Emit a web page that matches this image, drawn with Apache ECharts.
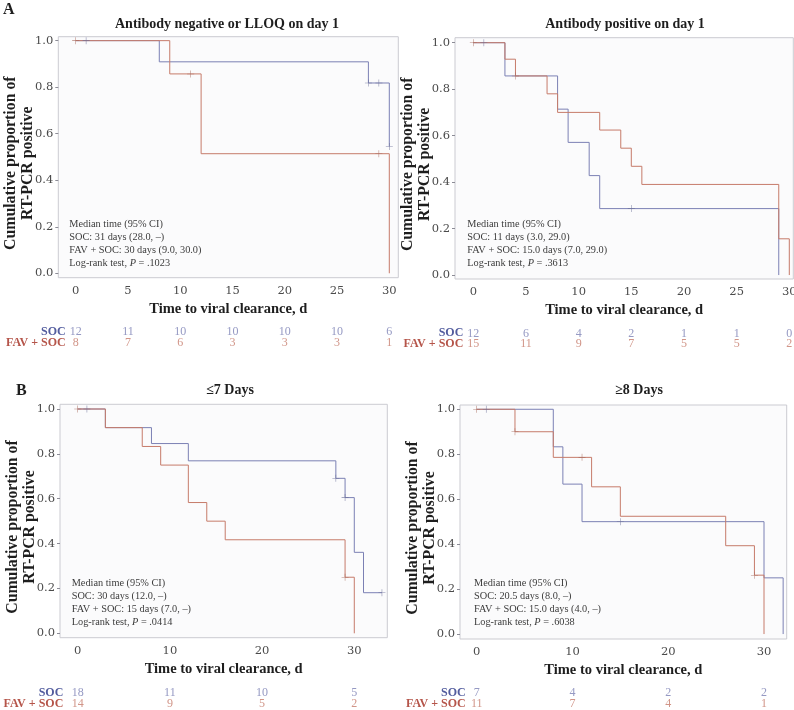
<!DOCTYPE html>
<html>
<head>
<meta charset="utf-8">
<script src="https://cdn.jsdelivr.net/npm/echarts@6/dist/echarts.min.js"></script>
<style>
  html, body { margin: 0; padding: 0; background: #fff; }
  #main { width: 794px; height: 710px; }
</style>
</head>
<body>
<div id="main"></div>
<script>
// ---- data ----
// A: antibody negative or LLOQ on day 1
var socTimeA1 = [0, 8, 28, 30];
var socSurvA1 = [1, 0.909, 0.818, 0.545];
var favTimeA1 = [0, 9, 12, 30];
var favSurvA1 = [1, 0.857, 0.514, 0];
var socCensTA1 = [1, 28, 29, 30];
var socCensSA1 = [1, 0.818, 0.818, 0.545];
var favCensTA1 = [0, 11, 29];
var favCensSA1 = [1, 0.857, 0.514];

// A: antibody positive on day 1
var socTimeA2 = [0, 3, 8, 9, 11, 12, 29];
var socSurvA2 = [1, 0.857, 0.714, 0.571, 0.428, 0.286, 0];
var favTimeA2 = [0, 3, 4, 7, 8, 12, 14, 15, 16, 29, 30];
var favSurvA2 = [1, 0.929, 0.857, 0.78, 0.70, 0.624, 0.546, 0.468, 0.39, 0.156, 0];
var socCensTA2 = [1, 15];
var socCensSA2 = [1, 0.286];
var favCensTA2 = [0, 4];
var favCensSA2 = [1, 0.857];

// B: <=7 days
var socTimeB1 = [0, 3, 8, 12, 28, 29, 30, 31, 33];
var socSurvB1 = [1, 0.917, 0.846, 0.769, 0.691, 0.605, 0.361, 0.181, 0.181];
var favTimeB1 = [0, 3, 7, 9, 12, 14, 16, 29, 30];
var favSurvB1 = [1, 0.917, 0.833, 0.75, 0.583, 0.5, 0.417, 0.25, 0];
var socCensTB1 = [1, 28, 29, 33];
var socCensSB1 = [1, 0.691, 0.605, 0.181];
var favCensTB1 = [0, 29];
var favCensSB1 = [1, 0.25];

// B: >=8 days
var socTimeB2 = [0, 8, 9, 11, 30, 32];
var socSurvB2 = [1, 0.833, 0.667, 0.5, 0.25, 0];
var favTimeB2 = [0, 4, 8, 12, 15, 26, 29, 30];
var favSurvB2 = [1, 0.9, 0.786, 0.655, 0.524, 0.393, 0.262, 0];
var socCensTB2 = [1, 15];
var socCensSB2 = [1, 0.5];
var favCensTB2 = [0, 4, 11, 29];
var favCensSB2 = [1, 0.9, 0.786, 0.262];

// number at risk
var riskTicksA = [0, 5, 10, 15, 20, 25, 30];
var socRiskA1 = [12, 11, 10, 10, 10, 10, 6];
var favRiskA1 = [8, 7, 6, 3, 3, 3, 1];
var socRiskA2 = [12, 6, 4, 2, 1, 1, 0];
var favRiskA2 = [15, 11, 9, 7, 5, 5, 2];
var riskTicksB = [0, 10, 20, 30];
var socRiskB1 = [18, 11, 10, 5];
var favRiskB1 = [14, 9, 5, 2];
var socRiskB2 = [7, 4, 2, 2];
var favRiskB2 = [11, 7, 4, 1];

var yTicks = [0, 0.2, 0.4, 0.6, 0.8, 1.0];
var rowNames = ['FAV + SOC', 'SOC'];

var titles = ['Antibody negative or LLOQ on day 1', 'Antibody positive on day 1', '\u22647 Days', '\u22658 Days'];
var notes = [
  ['SOC: 31 days (28.0, \u2013)', 'FAV + SOC: 30 days (9.0, 30.0)', '.1023'],
  ['SOC: 11 days (3.0, 29.0)', 'FAV + SOC: 15.0 days (7.0, 29.0)', '.3613'],
  ['SOC: 30 days (12.0, \u2013)', 'FAV + SOC: 15 days (7.0, \u2013)', '.0414'],
  ['SOC: 20.5 days (8.0, \u2013)', 'FAV + SOC: 15.0 days (4.0, \u2013)', '.6038']
];

function zip(a, b) {
  return a.map(function (v, i) { return [v, b[i]]; });
}
function riskRow(ticks, vals, row) {
  return ticks.map(function (t, i) { return [t, row, vals[i]]; });
}

// ---- layout ----
var BLUE = '#7b80b4', RED = '#c67b6a';
var BLUE_TXT = '#525c9e', RED_TXT = '#b5554a';
var SERIF = 'Liberation Serif';

var panels = [
  { soc: zip(socTimeA1, socSurvA1), fav: zip(favTimeA1, favSurvA1),
    socC: zip(socCensTA1, socCensSA1), favC: zip(favCensTA1, favCensSA1),
    ticks: riskTicksA, socR: socRiskA1, favR: favRiskA1,
    box: [58.3, 36.7, 340, 241], xr: [-1.66, 30.86], yr: [-0.019, 1.017],
    tab: [326.2, 22, -7.4], title: [227, 24], note: [69.3, 218] },
  { soc: zip(socTimeA2, socSurvA2), fav: zip(favTimeA2, favSurvA2),
    socC: zip(socCensTA2, socCensSA2), favC: zip(favCensTA2, favCensSA2),
    ticks: riskTicksA, socR: socRiskA2, favR: favRiskA2,
    box: [455, 37.7, 338.3, 241.3], xr: [-1.74, 30.38], yr: [-0.017, 1.0215],
    tab: [328, 21.4, -8.3], title: [625, 24], note: [467.3, 218] },
  { soc: zip(socTimeB1, socSurvB1), fav: zip(favTimeB1, favSurvB1),
    socC: zip(socCensTB1, socCensSB1), favC: zip(favCensTB1, favCensSB1),
    ticks: riskTicksB, socR: socRiskB1, favR: favRiskB1,
    box: [60, 404.3, 327.3, 233.4], xr: [-1.92, 33.58], yr: [-0.0196, 1.021],
    tab: [687, 22.6, -3.3], title: [230, 390.7], note: [71.7, 577] },
  { soc: zip(socTimeB2, socSurvB2), fav: zip(favTimeB2, favSurvB2),
    socC: zip(socCensTB2, socCensSB2), favC: zip(favCensTB2, favCensSB2),
    ticks: riskTicksB, socR: socRiskB2, favR: favRiskB2,
    box: [460, 405, 326.7, 234], xr: [-1.74, 32.37], yr: [-0.022, 1.019],
    tab: [687, 22.6, -5.7], title: [639, 390.7], note: [474, 577] }
];

var CROSS = 'path://M4.6,0H5.4V4.6H10V5.4H5.4V10H4.6V5.4H0V4.6H4.6Z';

var grid = [], xAxis = [], yAxis = [], series = [], graphic = [];

panels.forEach(function (p, i) {
  var g = 2 * i, t = 2 * i + 1;
  grid.push({ left: p.box[0], top: p.box[1], width: p.box[2], height: p.box[3],
    outerBoundsMode: 'none',
    show: true, borderColor: '#cbcbd1', borderWidth: 1, backgroundColor: '#fbfbfc' });
  grid.push({ left: p.box[0], top: p.tab[0], width: p.box[2], height: p.tab[1],
    outerBoundsMode: 'none' });

  xAxis.push({ type: 'value', gridIndex: g, min: p.xr[0], max: p.xr[1],
    axisLine: { show: false, onZero: false }, splitLine: { show: false },
    axisTick: { show: false },
    axisLabel: { customValues: p.ticks, margin: 7, color: '#4a4a4a',
      fontFamily: 'DejaVu Serif', fontSize: 11.5 },
    name: 'Time to viral clearance, d', nameLocation: 'middle', nameGap: 24,
    nameTextStyle: { fontFamily: SERIF, fontWeight: 'bold', fontSize: 14.5, color: '#1e1e1e' } });
  xAxis.push({ type: 'value', gridIndex: t, min: p.xr[0], max: p.xr[1], show: false });

  yAxis.push({ type: 'value', gridIndex: g, min: p.yr[0], max: p.yr[1],
    axisLine: { show: false, onZero: false }, splitLine: { show: false },
    axisTick: { show: true, customValues: yTicks, length: 3, lineStyle: { color: '#8c8c96' } },
    axisLabel: { customValues: yTicks, margin: 5, color: '#4a4a4a',
      fontFamily: 'DejaVu Serif', fontSize: 11.5,
      formatter: function (v) { return v.toFixed(1); } },
    name: 'Cumulative proportion of\nRT-PCR positive', nameLocation: 'middle', nameGap: 22,
    nameMoveOverlap: false,
    nameTextStyle: { fontFamily: SERIF, fontWeight: 'bold', fontSize: 15.8, lineHeight: 16.8,
      color: '#1e1e1e', padding: [0, 12, 0, 0] } });
  yAxis.push({ type: 'category', gridIndex: t, data: rowNames,
    axisLine: { show: false, onZero: false }, axisTick: { show: false }, splitLine: { show: false },
    axisLabel: { margin: p.tab[2], interval: 0, hideOverlap: false,
      formatter: function (v) { return v === 'SOC' ? '{s|SOC}' : '{f|FAV + SOC}'; },
      rich: {
        s: { color: BLUE_TXT, fontWeight: 'bold', fontFamily: SERIF, fontSize: 12 },
        f: { color: RED_TXT, fontWeight: 'bold', fontFamily: SERIF, fontSize: 12 }
      } } });

  series.push({ type: 'line', step: 'end', xAxisIndex: g, yAxisIndex: g, data: p.soc,
    symbol: 'none', lineStyle: { color: BLUE, width: 1 }, z: 2 });
  series.push({ type: 'line', step: 'end', xAxisIndex: g, yAxisIndex: g, data: p.fav,
    symbol: 'none', lineStyle: { color: RED, width: 1 }, z: 3 });
  series.push({ type: 'scatter', xAxisIndex: g, yAxisIndex: g, data: p.socC,
    symbol: CROSS, symbolSize: 7, itemStyle: { color: '#6c6f98' }, z: 4 });
  series.push({ type: 'scatter', xAxisIndex: g, yAxisIndex: g, data: p.favC,
    symbol: CROSS, symbolSize: 7, itemStyle: { color: '#a86a5e' }, z: 4 });

  series.push({ type: 'scatter', xAxisIndex: t, yAxisIndex: t, data: riskRow(p.ticks, p.socR, 1),
    symbolSize: 1, itemStyle: { color: 'rgba(0,0,0,0)' },
    label: { show: true, position: 'inside', color: BLUE, fontFamily: SERIF, fontSize: 12,
      formatter: function (q) { return String(q.value[2]); } } });
  series.push({ type: 'scatter', xAxisIndex: t, yAxisIndex: t, data: riskRow(p.ticks, p.favR, 0),
    symbolSize: 1, itemStyle: { color: 'rgba(0,0,0,0)' },
    label: { show: true, position: 'inside', color: RED, fontFamily: SERIF, fontSize: 12,
      formatter: function (q) { return String(q.value[2]); } } });

  graphic.push({ type: 'text', x: p.title[0], y: p.title[1], z: 10,
    style: { text: titles[i], fontFamily: SERIF, fontWeight: 'bold', fontSize: 14,
      fill: '#1e1e1e', textAlign: 'center', textVerticalAlign: 'middle' } });
  graphic.push({ type: 'text', x: p.note[0], y: p.note[1], z: 10,
    style: {
      text: 'Median time (95% CI)\n' + notes[i][0] + '\n' + notes[i][1] +
        '\nLog-rank test, {i|P} = ' + notes[i][2],
      fontFamily: SERIF, fontSize: 10.3, lineHeight: 12.8, fill: '#3c3c3c',
      rich: { i: { fontFamily: SERIF, fontSize: 10.3, fontStyle: 'italic', lineHeight: 12.8, fill: '#3c3c3c' } }
    } });
});

graphic.push({ type: 'text', x: 3, y: 2, style: { text: 'A', fontFamily: SERIF, fontWeight: 'bold', fontSize: 16, fill: '#1e1e1e' } });
graphic.push({ type: 'text', x: 16, y: 383, style: { text: 'B', fontFamily: SERIF, fontWeight: 'bold', fontSize: 16, fill: '#1e1e1e' } });

var chart = echarts.init(document.getElementById('main'));
chart.setOption({
  animation: false,
  backgroundColor: '#ffffff',
  grid: grid,
  xAxis: xAxis,
  yAxis: yAxis,
  series: series,
  graphic: graphic
});
</script>
</body>
</html>
